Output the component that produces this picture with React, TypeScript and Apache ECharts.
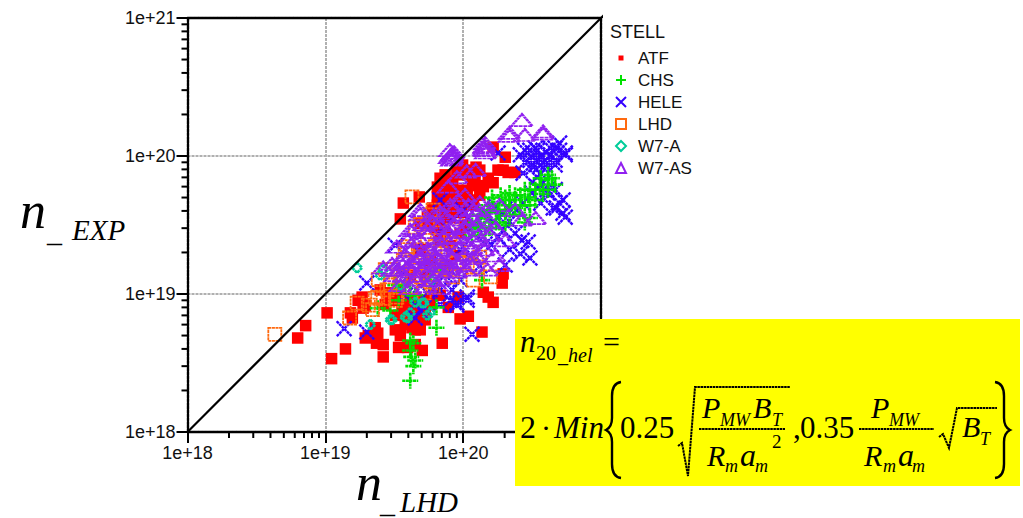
import React, { useEffect, useRef } from "react";
import * as echarts from "echarts";

// all series values are densities in units of 1e19
const UNIT = 1e19;
const atf = [
  [.63,.48],[.72,.59],[1.03,.73],[1.11,.34],[1.4,.40],[1.52,.73],[1.57,.67],[1.85,.95],[1.88,.79],[1.95,.48],
  [2.4,.52],[2.35,.44],[2.63,.35],[2.3,.57],[3.4,.41],[3.5,.5],[3.95,.41],[5.05,.39],[7.05,.44],[4.88,.55],
  [4.13,.63],[3.68,.74],[13.7,.53],[9.5,.66],[10.9,.69],[7.8,.80],[9.2,.95],[14,1.03],[15.2,.95],[16.5,.87],
  [19.2,1.2],[19.5,1.4],[3.68,4.56],[4.8,5.05],[3.5,3.5],[16.5,11.6],[20.2,9.8],[12.4,8.3],[10.9,7.9],[23.8,7.6],
  [19.5,7.9],[8.4,6.6],[6.8,5.9],[6.5,5.05],[7.65,4.8],[9,5.65],[10.7,5.65],[14,6],[16.5,6.4],[12.2,7],
  [7.65,4.05],[9.5,4.6],[5.5,3.6],[4.88,3.25],[8.05,3.6],[6.8,3.25],[9.5,2.75],[7.4,5.7],[8.3,5.4],[9.9,7.3],
  [11.7,6.6],[13.2,5.2],[11.6,4.8],[8.75,4.4],[6.9,4.4],[6.27,3.9],[3.5,1.07],[4.13,.9],[3.8,.74],[4.49,.77],
  [4.88,.9],[5.77,.9],[3.22,.7],[2.96,.9],[2.72,.84],[2.5,1.07],[5.77,.84],[6.81,.98],[5.3,.65],[4.49,.55],
  [4.13,.42],[4.25,.57],[3.8,.6],[3.22,.55],[4.88,2.1],[6.81,2.45],[5.77,1.75],[8.05,2.25],[4.13,1.37],
  [5.3,1.37],[7.4,1.62],[8.75,1.9],[6.27,3],[10.3,3.15],
  [6.5,5.95],[6.8,6.9],[7.4,7.3],[8,6.4],[9,7.9],[9.9,8.6],[11.6,7.7],[13.2,7.9],[15.2,6.9],[17.9,7.9],
  [21.2,7.6],[12.8,6.1],[10.3,5],[8.75,3.9],[7.4,3.9],[9.8,3.9],[11.9,4.4],[8.05,5],[7.1,5],[6.5,4.4],
  [6,4.2],[6.5,3.55],[7.4,2.8],[5.77,3.15],
  [3.22,.9],[3.6,.84],[4.25,.7],[4.88,.7],[1.95,.83],[2.85,1.02],
  [6.27,.98],[5.3,.74],[4.88,.62],[3.95,.67],[4.49,.43],[2.63,.43],[1.73,.9],[2.05,.5],
];
const chs = [
  [4.13,.235],[4.2,.35],[4.35,.3],[4.13,.39],[4.35,.44],[4.49,.33],[4.13,.46],[6.4,.57],[6.4,.8],[13.7,1.26],
  [2.4,.79],[2.96,.76],[3.4,.9],[4.49,.98],[3.8,1.15],[11.6,2.65],[12.8,3.15],[14.3,3.55],[15.5,4.05],[16.8,4.4],
  [18.3,3.95],[20.2,5],[21.7,4.8],[23.8,5.2],[26,5.2],[30.5,5.7],[36,6.2],[41.3,6.7],[44,6.9],[41.3,5.7],
  [33.3,4.8],[28,4.4],[21.7,3.7],[17.3,3.3],[13.2,3.75],[15.2,4.4],[18.7,5.2],[23.8,4.2],[30.5,4.4],[38,5.3],
  [30.5,3.55],[28,3.3],[20.2,3.15],[14.4,2.7],
  [13.2,3.3],[15.5,3],[18.3,3.3],[21.7,4.4],[26,4.4],[17.9,4.05],[20.2,4.05],[16.2,5],[21.7,5.4],[28,5.7],
  [33.4,5.7],[36.5,6.9],[41.3,7.3],[46.5,6.2],[29.6,5],[25.6,3.75],[15,3.9],[12.2,3],[11.6,3.3],[23.8,4.8],
  [5.77,1.26],[6.81,1.5],[4.13,.98],[3.22,1.16],
];
const hele = [
  [1.37,.56],[2,1.2],[2,.53],[4.49,.67],[11.6,.51],[9,.83],[10.7,.9],[5.2,.8],[9,.86],[10.7,.95],
  [8.3,1.07],[4.88,.76],[30.5,1.82],[29.6,2.38],[26.7,2.45],[21.7,2.1],[23.8,2.75],[19.5,2.9],[17.9,2.6],[16,2.27],
  [53,3.85],[50,4.55],[45,4.2],[40.5,5.7],[34.5,5.95],[36.5,7.5],[36.5,9.8],[39.5,10.7],[33.4,9.3],[43,10.2],
  [30.5,11],[28,9],[46.5,9.3],[39.5,8.6],[33.4,11.4],[43,11.4],[50,11],[55,10.2],[26,10.2],[50,12.4],
  [55,10.5],[46.5,11.4],[28,11],[30.5,9.3],[39.5,9.3],[34.5,11],[36.5,8.6],[32.2,8.3],[46.5,8.6],[53,4.8],
  [55,3.6],[47.5,4.2],[46.5,5.7],[38,6.4],[34.5,7],[27.2,7.5],[41,5.4],[36.5,4.55],[31.5,5.4],[27.2,4.55],
  [24.4,4.05],[20.9,4.3],[18.3,3.6],[21.7,3.35],[17.3,4.3],[16.5,3.35],[14,3.85],[11.8,3.25],[10,4.05],[17.9,10.5],
  [26,1.95],[20.2,1.62],[14.4,2.3],[11.6,1.9],[13.2,1.6],[9.5,1.27],[7.4,1.37],[5.77,1.62],[6.81,1.07],[4.88,1.15],
  [3.8,.98],[5.77,1.07],[8.05,.9],[6.81,.84],[4.49,.84],[3.5,1.5],[3.22,2.25],[4.49,2.1],[6.81,4.8],[7.4,3.15],
  [9.5,2.1],[12.2,3.15],
];
const lhd = [
  [.43,.51],[1.5,.67],[1.7,.86],[2.2,.77],[2.4,.95],[2.96,1.16],[2.63,.93],[2.8,1.07],[2.3,.93],[2.96,1.2],
  [3.68,1.33],[4.49,3.05],[5.5,3.25],[6.05,4.05],[4.25,5.05],[8.4,2.9],[6.5,2.77],[3.95,2.2],[6.27,2.2],[7.65,2.1],
  [4.88,1.85],[9,1.67],[12.6,1.57],[15.8,1.33],[11.8,1.26],[4.88,1.33],[3.68,1.76],[6.81,1.57],[8.4,1.33],[6.05,1.12],
  [4.13,1.12],[5.2,1.02],[3.3,.95],[3.1,1.5],[13.2,1.85],[10.7,1.67],[6.81,1.98],[5.5,2.45],[4.88,2.1],[8.05,2.45],
  [9.2,2.1],[11.5,2],
  [4.88,3.2],[5.8,3.75],[6.81,2.45],[6.27,1.76],[3.8,2.1],[4.25,1.5],[5.3,1.7],[7.4,1.5],[5.77,1.22],[4.5,1.62],
  [3.5,1.37],[2.42,1.27],[2.72,1.5],[3.22,.9],[2.05,.83],[8.05,1.5],
];
const w7a = [
  [1.7,1.55],[3.05,.65],[5.5,.70],[5.2,.86],[3.95,.67],[2.12,.6],[5.9,1.26],[2.63,1.5],[5.77,.73],[4.49,.87],
  [4.13,.73],[2.5,1.37],[3.5,1.16],[5.05,.86],[2.96,.65],[3.8,.68],
];
const w7as = [
  [26.7,18.2],[21.7,14.7],[28,14.2],[38,14.5],[14.4,12.4],[8.4,10.5],[8.4,10],[8,11],[14.3,11.8],[21.7,14],
  [38,15],[4.88,4.05],[4.88,3.8],[4.13,2.9],[3.3,2.2],[2.63,1.55],[3.05,1.5],[6,3.3],[18.3,1.62],[15,1.5],
  [33.5,3.55],[26.7,3.45],[3.4,1.5],[3.8,1.7],[4.25,1.45],[4.75,1.8],[5.3,1.62],[5.77,2.1],[6.4,1.82],[7,2.27],
  [7.8,1.92],[8.4,2.55],[9.2,2.15],[9.8,2.8],[11.6,2.5],[4.88,2.45],[4.25,2.1],[3.8,1.92],[5.77,2.8],[6.81,3.15],
  [7.8,2.8],[8.75,3.15],[10.3,3.05],[9.8,3.75],[11.6,3.55],[12.4,3.15],[13,4.05],[10.9,4.4],[9.2,4.8],[8.05,4.4],
  [6.81,1.76],[8.05,1.54],[5.77,1.37],[4.49,1.27],[3.5,1.16],[3.22,1.37],[6.81,1.27],[9.5,1.7],[11.6,1.62],
  [17,1.9],[20.2,2.45],[17.3,3],[18.3,4.4],[23.8,4.05],[6.81,3.9],[6,3.3],[5.3,2.8],
  [4.49,3],[3.95,2.45],[13.2,2.45],[15.5,2.7],[10.3,5.2],
  [8.4,9.6],[8.2,10.2],[8.6,10.6],[8,9.8],[8.3,9.4],[14.3,11.2],[14.5,11],[14.2,11.5],[14.6,10.6],
  [3.5,1.7],[3.95,1.55],[4.55,1.7],[5.05,1.5],[5.5,1.82],[6.15,1.6],[6.81,1.45],[7.5,1.7],[8.4,1.82],[9.2,1.6],
  [10.2,1.92],[11.6,2.15],[12.4,1.88],[14.2,2.1],[10.3,2.35],[9.2,2.6],[8.05,3],[7.3,2.55],[6.4,2.3],[5.5,2.1],
  [4.88,1.88],[4.4,2.4],[5.2,3.2],[6.1,3.7],[7.3,3.75],[8.4,4.05],[10.2,3.45],[11.9,4.05],[13.2,4.6],
  [15.2,4.2],[13.7,3.45],[15.8,3.3],[12.8,2.65],[11.6,1.82],[6.81,2.1],[5.9,1.7],[4.25,1.7],[3.75,1.35],[4.75,1.35],
  [6,1.26],[7.5,1.35],[9,1.45],[10.5,1.5],[3.05,1.65],[5.4,1.14],[6.8,1.1],[4.13,1.1],
  [7.8,6],[9,7],[10.6,7.7],[12.3,7.9],
];
const tickLabels = ["1e+18", "1e+19", "1e+20", "1e+21"];
const decades = [1e18, 1e19, 1e20];
const minorSteps = [2, 3, 4, 5, 6, 7, 8, 9];
const legendNames = ["ATF", "CHS", "HELE", "LHD", "W7-A", "W7-AS"];

const AX_MIN = 1e18;
const AX_MAX = 1e21;
const scaled = (pts: number[][]) => pts.map(([x, y]) => [x * UNIT, y * UNIT]);
const minorValues = decades.flatMap((d) => minorSteps.map((m) => d * m));
const SERIF = "'Liberation Serif','Times New Roman',serif";
const SANS = "'Liberation Sans',Arial,sans-serif";
const DASH = [3, 0.8];

const PLUS = "path://M5 0V10M0 5H10";
const CROSS = "path://M0 0L10 10M10 0L0 10";
const SMALL_RECT = "path://M0 0M10 10M2.5 2.5H7.5V7.5H2.5Z";

echarts.graphic.registerShape(
  "brace",
  echarts.graphic.extendPath(
    "M15 0C8 1 6 6 6 14L6 36C6 42 4 46 0 48C4 50 6 54 6 60L6 82C6 90 8 95 15 96",
    {}
  )
);

// t(text, left, baseline, size, italic)
function t(text: string, x: number, base: number, size: number, italic = true) {
  return {
    type: "text",
    z: 60,
    x,
    y: base - 0.3375 * size,
    style: {
      text,
      fontFamily: SERIF,
      fontSize: size,
      fontStyle: italic ? "italic" : "normal",
      fill: "#000",
      verticalAlign: "middle",
      align: "left",
    },
  };
}
function poly(points: number[][]) {
  return {
    type: "polyline",
    z: 60,
    shape: { points },
    style: { fill: "none", stroke: "#000", lineWidth: 2, lineDash: [2.5, 0.6] },
  };
}

const formula = [
  { type: "rect", z: 50, shape: { x: 515, y: 319, width: 505, height: 167 }, style: { fill: "#ffff00" } },
  t("n", 520, 352, 31),
  t("20", 536, 360, 20, false),
  t("_", 558, 362, 20),
  t("hel", 568, 362, 20),
  t("=", 603, 352, 30, false),
  t("2", 520, 438, 32, false),
  t("·", 541, 438, 30, false),
  t("Min", 554, 438, 31),
  { type: "brace", z: 60, x: 606, y: 382, style: { fill: "none", stroke: "#000", lineWidth: 2.4 } },
  t("0.25", 620, 438, 31, false),
  poly([[678, 446], [682, 443], [688, 476], [695, 387], [790, 387]]),
  t("P", 702, 418, 30),
  t("MW", 720, 426, 18),
  t("B", 753, 418, 30),
  t("T", 772, 426, 18),
  poly([[699, 429], [785, 429]]),
  t("R", 707, 466, 30),
  t("m", 725, 472, 18),
  t("a", 740, 466, 32),
  t("m", 755, 472, 18),
  t("2", 772, 448, 19, false),
  t(",", 793, 438, 31, false),
  t("0.35", 800, 438, 31, false),
  poly([[859, 429], [934, 429]]),
  t("P", 871, 418, 30),
  t("MW", 889, 426, 18),
  t("R", 864, 466, 30),
  t("m", 883, 472, 18),
  t("a", 898, 466, 32),
  t("m", 912, 472, 18),
  poly([[939, 437], [943, 434], [949, 448], [957, 408], [997, 408]]),
  t("B", 962, 437, 30),
  t("T", 980, 445, 18),
  { type: "brace", z: 60, x: 1010, y: 382, scaleX: -1, style: { fill: "none", stroke: "#000", lineWidth: 2.4 } },
];

const axisTitles = [
  t("n", 20, 228, 52),
  t("_", 47, 242, 30),
  t("EXP", 72, 240, 29),
  t("n", 356, 500, 52),
  t("_", 380, 512.5, 30),
  t("LHD", 400, 512, 29),
  {
    type: "text",
    z: 60,
    x: 610,
    y: 32,
    style: { text: "STELL", fontFamily: SANS, fontSize: 18, fill: "#111", verticalAlign: "middle" },
  },
];

function logAxis(position: string, labelled: boolean) {
  return {
    type: "log",
    logBase: 10,
    min: AX_MIN,
    max: AX_MAX,
    position,
    axisLine: { show: true, onZero: false, lineStyle: { color: "#000", width: 2.4, type: DASH } },
    axisTick: { show: labelled, length: 11, inside: false, lineStyle: { color: "#000", width: 2 } },
    minorTick: { show: false },
    splitLine: labelled
      ? { show: true, lineStyle: { color: "#b0b0b0", width: 2, type: [3, 1] } }
      : { show: false },
    axisLabel: {
      show: labelled,
      margin: 12,
      fontFamily: SANS,
      fontSize: 18,
      color: "#111",
      hideOverlap: false,
      showMinLabel: true,
      showMaxLabel: true,
      formatter: (v: number) => tickLabels[Math.round(Math.log10(v)) - 18],
    },
  };
}

function scatter(name: string, data: number[][], symbol: string, size: any, itemStyle: any) {
  return { type: "scatter", name, data: scaled(data), symbol, symbolSize: size, itemStyle, clip: false };
}

function minorTick(params: any, api: any) {
  const horizontal = api.value(1) === AX_MIN;
  const p = api.coord([api.value(0), api.value(1)]);
  return {
    type: "line",
    shape: horizontal
      ? { x1: p[0], y1: p[1], x2: p[0], y2: p[1] + 6 }
      : { x1: p[0], y1: p[1], x2: p[0] - 6, y2: p[1] },
    style: { stroke: "#000", lineWidth: 2 },
  };
}

const strokeOnly = (color: string, width: number) => ({
  color: "transparent",
  borderColor: color,
  borderWidth: width,
  borderType: [3, 0.6],
  opacity: 1,
});

export default function App() {
  const ref = useRef<HTMLDivElement>(null);
  useEffect(() => {
    const chart = echarts.init(ref.current!, null, { renderer: "svg" });
    chart.setOption({
      animation: false,
      backgroundColor: "#fff",
      grid: { left: 187.5, top: 18, width: 413.5, height: 414, containLabel: false },
      xAxis: [logAxis("bottom", true), logAxis("top", false)],
      yAxis: [logAxis("left", true), logAxis("right", false)],
      legend: {
        orient: "vertical",
        left: 610,
        top: 44,
        itemWidth: 10,
        itemHeight: 10,
        itemGap: 4,
        selectedMode: false,
        textStyle: { fontFamily: SANS, fontSize: 17, color: "#111", lineHeight: 18, padding: [0, 0, 0, 7] },
        data: legendNames.map((name) => ({
          name,
          ...(name === "ATF" ? { icon: SMALL_RECT } : {}),
        })),
      },
      series: [
        scatter("ATF", atf, "rect", 11.5, { color: "#ff0000", opacity: 1 }),
        scatter("HELE", hele, CROSS, 15, strokeOnly("#3300ff", 2.4)),
        scatter("CHS", chs, PLUS, 16, strokeOnly("#00e000", 2.6)),
        scatter("LHD", lhd, "rect", 13, strokeOnly("#ff6a10", 1.8)),
        scatter("W7-A", w7a, "diamond", 10, strokeOnly("#00cc99", 2.6)),
        scatter("W7-AS", w7as, "triangle", [21, 12], strokeOnly("#9020f0", 2.2)),
        {
          type: "line",
          name: "identity",
          data: [[AX_MIN, AX_MIN], [1.1e21, 1.1e21]],
          symbol: "none",
          z: 6,
          clip: false,
          lineStyle: { color: "#000", width: 2.2 },
        },
        {
          type: "custom",
          name: "minorX",
          coordinateSystem: "cartesian2d",
          data: minorValues.map((v) => [v, AX_MIN]),
          renderItem: minorTick,
          z: 6,
        },
        {
          type: "custom",
          name: "minorY",
          coordinateSystem: "cartesian2d",
          data: minorValues.map((v) => [AX_MIN, v]),
          renderItem: minorTick,
          z: 6,
        },
      ],
      graphic: { elements: [...axisTitles, ...formula] },
    });
    return () => chart.dispose();
  }, []);
  return <div ref={ref} style={{ position: "absolute", left: 0, top: 0, width: 1023, height: 518 }} />;
}
